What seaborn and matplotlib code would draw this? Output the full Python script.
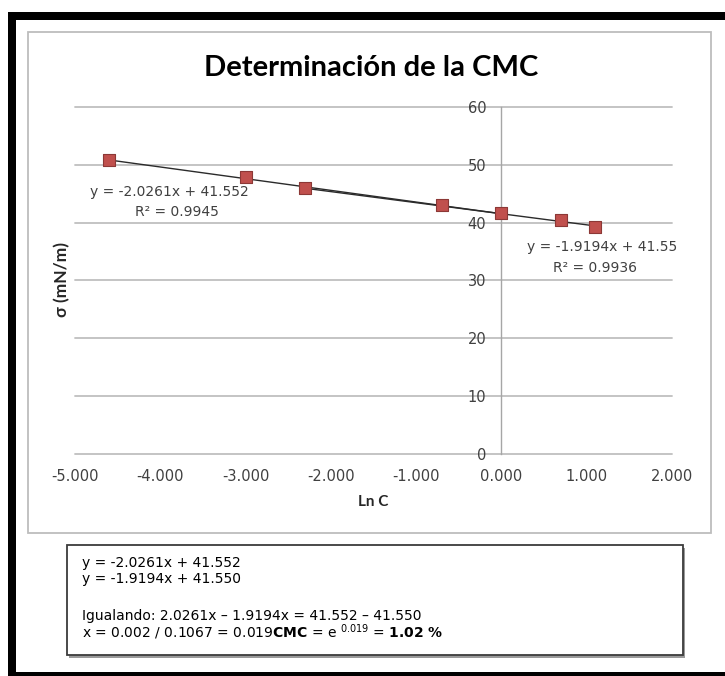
import matplotlib
matplotlib.use("Agg")
import matplotlib.pyplot as plt
import seaborn as sns
import numpy as np
import pandas as pd
from matplotlib.patches import Rectangle

# ---------------- data ----------------
ln_c = [-4.605, -3.0, -2.303, -0.693, 0.0, 0.693, 1.099]
sigma = [50.8, 48.0, 46.0, 43.0, 41.6, 40.5, 39.3]
fit_slopes = [-2.0261, -1.9194]
fit_intercepts = [41.552, 41.55]
fit_r2 = ["0.9945", "0.9936"]
fit_start_idx = [0, 2]
fit_end_idx = [4, 6]
x_ticks = [-5, -4, -3, -2, -1, 0, 1, 2]
y_ticks = [0, 10, 20, 30, 40, 50, 60]
title = "Determinación de la CMC"
x_label = "Ln C"
y_label = "σ (mN/m)"
box_lines = ["y = -2.0261x + 41.552",
             "y = -1.9194x + 41.550",
             "Igualando: 2.0261x \u2013 1.9194x = 41.552 \u2013 41.550",
             r"x = 0.002 / 0.1067 = 0.019$\mathbf{CMC}$ = e $^{0.019}$ = $\mathbf{1.02\ \%}$"]

sns.set_theme(style="white")
plt.rcParams['font.family'] = ['DejaVu Sans']
plt.rcParams['mathtext.fontset'] = 'custom'
plt.rcParams['mathtext.rm'] = 'DejaVu Sans'
plt.rcParams['mathtext.bf'] = 'DejaVu Sans:bold'

W, H = 725, 676
fig = plt.figure(figsize=(W / 100, H / 100), dpi=100)
fig.patch.set_facecolor("white")

def fx(px):
    return px / W

def fy(py):
    return 1 - py / H

# outer black frame (top, left, bottom)
fig.patches.append(Rectangle((fx(8), fy(20)), fx(725 - 8), 8 / H, transform=fig.transFigure,
                             facecolor="black", edgecolor="none", zorder=0))
fig.patches.append(Rectangle((fx(8), fy(676)), 8 / W, (676 - 12) / H, transform=fig.transFigure,
                             facecolor="black", edgecolor="none", zorder=0))
fig.patches.append(Rectangle((fx(8), fy(676)), fx(725 - 8), 4 / H, transform=fig.transFigure,
                             facecolor="black", edgecolor="none", zorder=0))
# chart area border
fig.patches.append(Rectangle((fx(28), fy(533)), fx(711 - 28), (533 - 32) / H, transform=fig.transFigure,
                             facecolor="white", edgecolor="#BDBDBD", lw=1.3, zorder=0.5))
# text box (shadow + box)
fig.patches.append(Rectangle((fx(69), fy(658)), fx(683 - 67), (655 - 545) / H, transform=fig.transFigure,
                             facecolor="#9a9a9a", edgecolor="none", zorder=0.6))
fig.patches.append(Rectangle((fx(67), fy(655)), fx(683 - 67), (655 - 545) / H, transform=fig.transFigure,
                             facecolor="white", edgecolor="#3c3c3c", lw=1.3, zorder=0.7))

ax = fig.add_axes([fx(75), fy(453.5), fx(672 - 75), (453.5 - 107.3) / H])
ax.set_zorder(2)
ax.set_facecolor("none")

df = pd.DataFrame({"lnC": ln_c, "sigma": sigma})

# trend lines from the fitted equations
for k in range(2):
    xs = [ln_c[fit_start_idx[k]], ln_c[fit_end_idx[k]]]
    line_df = pd.DataFrame({"x": xs, "y": [fit_slopes[k] * v + fit_intercepts[k] for v in xs]})
    sns.lineplot(data=line_df, x="x", y="y", ax=ax, color="#2b2b2b", lw=1.0, zorder=3)

sns.scatterplot(data=df, x="lnC", y="sigma", ax=ax, marker="s", s=80,
                color="#C0504D", edgecolor="#8C3836", linewidth=0.8, zorder=4)

ax.set_xlim(-5, 2)
ax.set_ylim(0, 60)
ax.set_xticks(x_ticks)
ax.set_xticklabels([f"{v:.3f}" for v in x_ticks])
ax.set_yticks(y_ticks)
ax.set_yticklabels([str(v) for v in y_ticks])
ax.tick_params(axis="x", length=0, pad=11, labelsize=10.5, labelcolor="#404040")
ax.tick_params(axis="y", length=0, pad=11, labelsize=10.5, labelcolor="#404040")

for s in ["top", "right", "bottom"]:
    ax.spines[s].set_visible(False)
ax.spines["left"].set_position(("data", 0))
ax.spines["left"].set_color("#A6A6A6")
ax.spines["left"].set_linewidth(1.0)
ax.yaxis.grid(True, color="#BFBFBF", lw=1.3)
ax.xaxis.grid(False)
ax.set_axisbelow(True)
for gl in ax.get_ygridlines():
    gl.set_clip_on(False)

ax.set_xlabel("")
ax.set_ylabel("")

# equation labels
ax.text(-3.89, 45.3, f"y = {fit_slopes[0]}x + {fit_intercepts[0]}", ha="center", va="center",
        fontsize=10, color="#404040")
ax.text(-3.80, 41.9, f"R² = {fit_r2[0]}", ha="center", va="center", fontsize=10, color="#404040")
ax.text(1.18, 35.8, f"y = {fit_slopes[1]}x + {fit_intercepts[1]}", ha="center", va="center",
        fontsize=10, color="#404040")
ax.text(1.10, 32.1, f"R² = {fit_r2[1]}", ha="center", va="center", fontsize=10, color="#404040")

# titles
fig.text(fx(371), fy(68), title, ha="center", va="center", fontsize=21, fontweight="bold",
         family=["Lato", "DejaVu Sans"], color="black")
fig.text(fx(373.5), fy(502), x_label, ha="center", va="center", fontsize=11, fontweight="bold",
         family=["Lato", "DejaVu Sans"], color="#262626")
fig.text(fx(62), fy(279), y_label, ha="center", va="center", rotation=90, fontsize=12.5,
         fontweight="bold", family=["Lato", "DejaVu Sans"], color="#262626")

# text box contents
for txt, ypx in zip(box_lines, [563, 579, 616, 632]):
    fig.text(fx(82), fy(ypx), txt, ha="left", va="center", fontsize=10, color="black", zorder=5)

fig.savefig("out.png", dpi=100)
